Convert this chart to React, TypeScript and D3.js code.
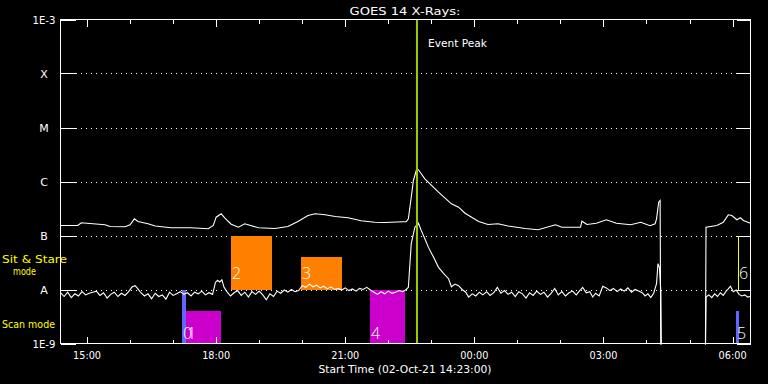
import React from "react";
import * as d3 from "d3";

const W = 768;
const H = 384;

const TITLE = "GOES 14 X-Rays:";
const X_TITLE = "Start Time (02-Oct-21 14:23:00)";
const EVENT_LABEL = "Event Peak";

// minutes after 14:23
const X_DOMAIN = [0, 962];
const MAJOR_TICKS = [37, 217, 397, 577, 757, 937];
const MAJOR_LABELS = ["15:00", "18:00", "21:00", "00:00", "03:00", "06:00"];
const MINOR_TICKS = [97, 157, 277, 337, 457, 517, 637, 697, 817, 877];

// log10 flux levels
const Y_LEVELS = [-9, -8, -7, -6, -5, -4, -3];
const Y_LABELS = ["1E-9", "A", "B", "C", "M", "X", "1E-3"];
const GRID_LEVELS = [-8, -7, -6, -5, -4];

const EVENT_PEAK = 497;

// long channel (1-8 A): [minute, log10 flux]
const LONG_CHANNEL: [number, number][] = [
  [0, -6.815], [24, -6.815], [29, -6.765], [41, -6.778], [62, -6.802], [69, -6.833],
  [90, -6.838], [97, -6.8], [103, -6.691], [108, -6.741], [122, -6.783], [132, -6.825],
  [154, -6.857], [182, -6.857], [206, -6.876], [213, -6.815], [217, -6.661], [224, -6.598],
  [229, -6.672], [234, -6.741], [238, -6.79], [248, -6.846], [257, -6.783], [276, -6.857],
  [299, -6.87], [317, -6.833], [331, -6.741], [345, -6.63], [355, -6.598], [369, -6.617],
  [383, -6.648], [401, -6.672], [419, -6.728], [438, -6.754], [452, -6.759], [478, -6.746],
  [482, -6.746], [485, -6.691], [489, -6.291], [492, -5.981], [496, -5.796], [499, -5.783],
  [508, -5.95], [527, -6.198], [545, -6.413], [555, -6.476], [564, -6.587], [583, -6.741],
  [596, -6.796], [610, -6.783], [624, -6.825], [648, -6.87], [666, -6.894], [690, -6.802],
  [699, -6.846], [715, -6.846], [725, -6.846], [727, -6.735], [734, -6.796], [747, -6.772],
  [761, -6.709], [775, -6.772], [795, -6.802], [809, -6.754], [822, -6.82], [829, -6.783],
  [831, -6.691], [834, -6.383], [836, -6.352], [837, -9.5], [899, -9.5], [900, -6.846],
  [915, -6.815], [924, -6.754], [931, -6.617], [936, -6.63], [943, -6.709], [948, -6.672],
  [952, -6.722], [962, -6.772],
];

// short channel (0.5-4 A): [minute, log10 flux]
const SHORT_CHANNEL: [number, number][] = [
  [0, -8.06], [5, -8.13], [10, -8.05], [15, -8.15], [20, -8.08], [25, -8.12], [30, -8.04],
  [35, -8.1], [40, -8.07], [45, -8.05], [50, -8.03], [55, -8.11], [60, -8.06], [65, -8.16],
  [70, -8.09], [75, -8.05], [80, -8.13], [85, -8.07], [90, -8.11], [95, -8.04], [100, -7.95],
  [104, -7.93], [108, -7.99], [112, -8.06], [117, -8.12], [122, -8.08], [127, -8.17],
  [132, -8.07], [137, -8.13], [142, -8.1], [147, -8.18], [152, -8.05], [157, -8.11],
  [162, -8.08], [167, -8.04], [172, -8.09], [177, -8.06], [182, -8.12], [187, -8.05],
  [192, -8.08], [197, -8.03], [202, -8.1], [207, -8.06], [212, -8.09], [216, -7.87],
  [219, -7.83], [222, -7.86], [225, -7.82], [228, -7.96], [232, -8.04], [237, -8.12],
  [242, -8.06], [247, -8.02], [252, -8.11], [257, -8.05], [262, -8.14], [267, -8.04],
  [272, -8.09], [277, -8.03], [282, -8.1], [287, -8.19], [292, -8.08], [297, -8.13],
  [302, -8.03], [307, -8.07], [312, -8.01], [317, -8.05], [322, -8.0], [327, -8.04],
  [332, -8.02], [337, -7.93], [342, -7.96], [347, -7.9], [352, -7.95], [357, -7.92],
  [362, -7.97], [367, -7.94], [372, -7.99], [377, -7.95], [382, -8.0], [387, -7.98],
  [392, -8.01], [397, -7.97], [402, -8.02], [407, -7.99], [412, -8.03], [417, -7.98],
  [422, -8.0], [427, -7.96], [432, -8.01], [437, -8.05], [442, -8.09], [447, -8.04],
  [452, -8.08], [457, -8.03], [462, -8.07], [467, -8.05], [472, -8.02], [477, -8.04],
  [482, -8.0], [485, -7.96], [489, -7.15], [494, -6.85], [499, -6.77], [503, -6.91],
  [508, -7.06], [513, -7.22], [520, -7.4], [527, -7.59], [534, -7.7], [541, -7.8],
  [545, -7.95], [550, -7.9], [555, -7.93], [560, -8.0], [565, -8.05], [569, -8.14],
  [574, -8.08], [579, -8.12], [584, -8.05], [589, -8.1], [594, -8.04], [599, -8.11],
  [604, -8.06], [609, -7.96], [614, -8.07], [619, -8.02], [624, -8.09], [629, -8.05],
  [634, -8.13], [639, -8.04], [644, -8.08], [649, -8.16], [654, -8.06], [659, -8.11],
  [664, -8.03], [669, -8.09], [674, -8.05], [679, -8.14], [684, -8.07], [689, -7.98],
  [694, -8.1], [699, -8.04], [704, -8.12], [709, -8.06], [714, -8.03], [719, -8.1],
  [724, -8.02], [728, -7.96], [733, -8.06], [738, -8.04], [742, -8.14], [746, -8.07],
  [751, -8.12], [756, -7.94], [761, -7.97], [766, -8.02], [771, -7.98], [776, -8.04],
  [781, -7.99], [786, -8.03], [791, -7.97], [796, -8.05], [801, -8.0], [806, -8.03],
  [811, -8.06], [815, -8.12], [819, -8.08], [823, -8.15], [827, -8.07], [831, -7.89],
  [833, -7.52], [835, -7.59], [836, -7.8], [837, -8.05], [838, -9.5], [899, -9.5],
  [900, -8.14], [904, -8.1], [908, -8.15], [912, -8.08], [916, -8.13], [920, -8.06],
  [924, -8.11], [928, -8.03], [931, -7.99], [934, -7.94], [938, -8.04], [942, -8.01],
  [946, -8.09], [950, -8.12], [954, -8.1], [958, -8.14], [962, -8.13],
];

// observation boxes
const BOX_IDS = ["0", "1", "2", "3", "4", "5", "6"];
const BOX_START = [169, 175, 238, 335, 431, 942, 945];
const BOX_END = [175, 224, 295, 392, 480, 946, 945];
const BOX_LOW = [-9, -9, -8, -8, -9, -9, -8];
const BOX_HIGH = [-8, -8.39, -7, -7.39, -8, -8.39, -7];
const BOX_KIND = ["scanA", "scanB", "stare", "stare", "scanB", "scanA", "stareLine"];

const KIND_COLOR: Record<string, string> = {
  scanA: "#6464ff",
  scanB: "#cc00cc",
  stare: "#ff8000",
  stareLine: "#ffff00",
};

const L = 60.5;
const R = 750.5;
const T = 19.5;
const B = 343.5;

const FONT = "'DejaVu Sans', sans-serif";

export default function App() {
  const x = d3.scaleLinear().domain(X_DOMAIN).range([L, R]);
  const y = d3.scaleLinear().domain([-9, -3]).range([B, T]);
  const line = d3
    .line<[number, number]>()
    .x((d) => x(d[0]))
    .y((d) => y(d[1]));

  return (
    <svg
      width={W}
      height={H}
      style={{ position: "fixed", left: 0, top: 0, background: "#000", display: "block" }}
    >
      <defs>
        <clipPath id="plot">
          <rect x={L} y={T} width={R - L} height={B - T + 1} />
        </clipPath>
      </defs>
      <rect x={0} y={0} width={W} height={H} fill="#000" />

      {/* title */}
      <text x={405} y={14.5} fill="#fff" fontFamily={FONT} fontSize={11} textAnchor="middle"
        textLength={111} lengthAdjust="spacingAndGlyphs">
        {TITLE}
      </text>

      {/* grid */}
      {GRID_LEVELS.map((lv) => (
        <line key={"g" + lv} x1={L} x2={R} y1={Math.round(y(lv)) + 0.5} y2={Math.round(y(lv)) + 0.5}
          stroke="#fff" strokeDasharray="1,4" shapeRendering="crispEdges" />
      ))}

      {/* y ticks left/right */}
      {Y_LEVELS.map((lv) => (
        <g key={"yt" + lv}>
          <line x1={L} x2={L + 15} y1={Math.round(y(lv)) + 0.5} y2={Math.round(y(lv)) + 0.5}
            stroke="#fff" shapeRendering="crispEdges" />
          <line x1={R - 14} x2={R} y1={Math.round(y(lv)) + 0.5} y2={Math.round(y(lv)) + 0.5}
            stroke="#fff" shapeRendering="crispEdges" />
        </g>
      ))}

      {/* y labels */}
      {Y_LEVELS.map((lv, i) => (
        <text key={"yl" + lv} x={44} y={y(lv) + 4} fill="#fff" fontFamily={FONT} fontSize={11}
          textAnchor="middle"
          {...(Y_LABELS[i].length > 1 ? { textLength: 23, lengthAdjust: "spacingAndGlyphs" } : {})}>
          {Y_LABELS[i]}
        </text>
      ))}

      {/* mode labels */}
      <text x={2} y={263} fill="#ffff00" fontFamily={FONT} fontSize={11} textLength={65}
        lengthAdjust="spacingAndGlyphs">Sit &amp; Stare</text>
      <text x={13} y={274.5} fill="#ffff00" fontFamily={FONT} fontSize={11} textLength={23}
        lengthAdjust="spacingAndGlyphs">mode</text>
      <text x={2} y={327.5} fill="#ffff00" fontFamily={FONT} fontSize={11} textLength={53}
        lengthAdjust="spacingAndGlyphs">Scan mode</text>

      {/* boxes */}
      <g clipPath="url(#plot)">
        {BOX_IDS.map((id, i) => {
          const c = KIND_COLOR[BOX_KIND[i]];
          if (BOX_KIND[i] === "stareLine") {
            const xx = Math.round(x(BOX_START[i])) + 0.5;
            return (
              <line key={"b" + id} x1={xx} x2={xx} y1={y(BOX_HIGH[i])} y2={y(BOX_LOW[i])}
                stroke={c} shapeRendering="crispEdges" />
            );
          }
          const x0 = Math.round(x(BOX_START[i]));
          const x1 = Math.round(x(BOX_END[i]));
          const y0 = Math.round(y(BOX_HIGH[i]));
          const y1 = Math.round(y(BOX_LOW[i]));
          return <rect key={"b" + id} x={x0} y={y0} width={x1 - x0} height={y1 - y0} fill={c} />;
        })}
      </g>

      {/* data */}
      <g clipPath="url(#plot)">
        <path d={line(LONG_CHANNEL) || ""} fill="none" stroke="#fff" strokeWidth={1.1} />
        <path d={line(SHORT_CHANNEL) || ""} fill="none" stroke="#fff" strokeWidth={1.1} />
      </g>

      {/* event peak */}
      <line x1={x(EVENT_PEAK)} x2={x(EVENT_PEAK)} y1={T} y2={B} stroke="#9acd00" strokeWidth={2} />
      <text x={428} y={47} fill="#fff" fontFamily={FONT} fontSize={11} textLength={59}
        lengthAdjust="spacingAndGlyphs">{EVENT_LABEL}</text>

      {/* box labels */}
      {BOX_IDS.map((id, i) => {
        const lx = Math.round(x(BOX_START[i])) + 1;
        const base = y(BOX_LOW[i]) - (BOX_LOW[i] === -9 ? 5 : 11);
        return (
          <text key={"bl" + id} x={lx} y={base} fill="#fff" fontFamily="'Open Sans', sans-serif"
            fontSize={16} fontWeight={300}>
            {id}
          </text>
        );
      })}

      {/* frame */}
      <rect x={L} y={T} width={R - L} height={B - T} fill="none" stroke="#fff" shapeRendering="crispEdges" />

      {/* x ticks */}
      {MAJOR_TICKS.map((m) => (
        <g key={"xt" + m}>
          <line x1={Math.round(x(m)) + 0.5} x2={Math.round(x(m)) + 0.5} y1={B} y2={B - 7} stroke="#fff" shapeRendering="crispEdges" />
          <line x1={Math.round(x(m)) + 0.5} x2={Math.round(x(m)) + 0.5} y1={T} y2={T + 7} stroke="#fff" shapeRendering="crispEdges" />
        </g>
      ))}
      {MINOR_TICKS.map((m) => (
        <g key={"xm" + m}>
          <line x1={Math.round(x(m)) + 0.5} x2={Math.round(x(m)) + 0.5} y1={B} y2={B - 4} stroke="#fff" shapeRendering="crispEdges" />
          <line x1={Math.round(x(m)) + 0.5} x2={Math.round(x(m)) + 0.5} y1={T} y2={T + 4} stroke="#fff" shapeRendering="crispEdges" />
        </g>
      ))}
      {MAJOR_TICKS.map((m, i) => (
        <text key={"xl" + m} x={x(m)} y={359} fill="#fff" fontFamily={FONT} fontSize={11}
          textAnchor="middle" textLength={28} lengthAdjust="spacingAndGlyphs">
          {MAJOR_LABELS[i]}
        </text>
      ))}
      <text x={405} y={372.5} fill="#fff" fontFamily={FONT} fontSize={11} textAnchor="middle"
        textLength={173} lengthAdjust="spacingAndGlyphs">
        {X_TITLE}
      </text>
    </svg>
  );
}
